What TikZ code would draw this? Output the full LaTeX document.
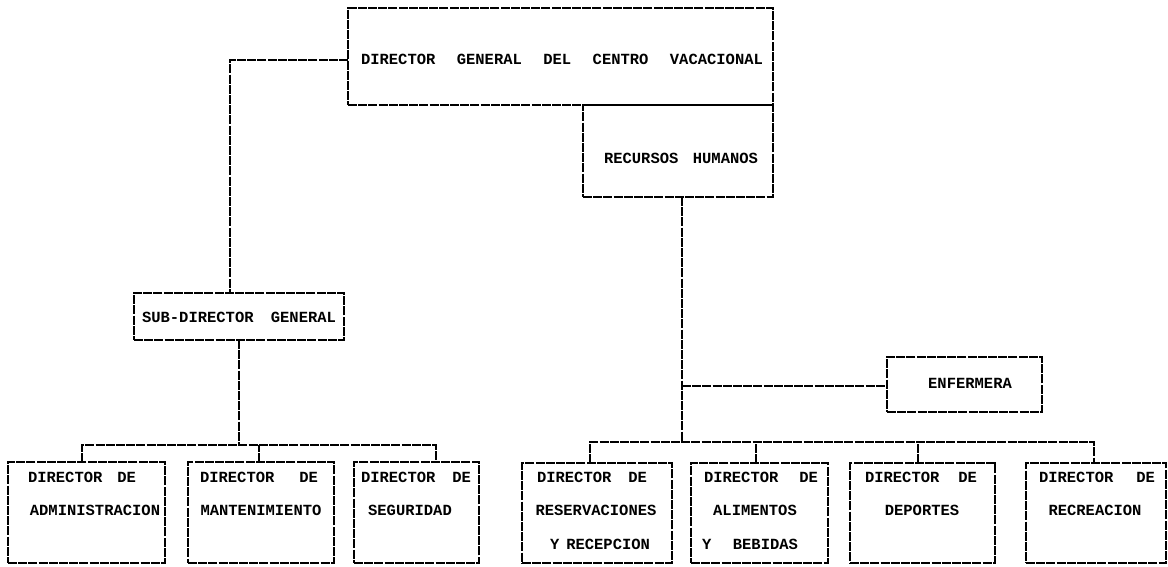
\documentclass[tikz,border=0pt]{standalone}
\usepackage{fontspec}
\setmonofont{Liberation Mono}
\begin{document}
\begin{tikzpicture}[x=1pt,y=-1pt,
  box/.style={draw, line width=1.8pt, dash pattern=on 9pt off 1.2pt,
              anchor=north west, inner sep=0pt, outer sep=0pt},
  wire/.style={line width=1.8pt, dash pattern=on 9pt off 1.2pt},
  lbl/.style={font=\ttfamily\bfseries\fontsize{15.5}{16}\selectfont, inner sep=0pt}]
\useasboundingbox[fill=white] (0,0) rectangle (1168,566);
\newcommand\orgbox[5]{\node[box, minimum width=#4pt, minimum height=#5pt] (#1) at (#2,#3) {};}
% a line of words spread over a given width
\newcommand\spread[2]{\makebox[#1pt]{#2}}

% boxes
\orgbox{dg}{348}{8}{425}{97}
\orgbox{rh}{583}{105}{190}{92}
\orgbox{sub}{134}{293}{210}{47}
\orgbox{enf}{887}{357}{155}{55}
\orgbox{adm}{8}{462}{157}{101}
\orgbox{man}{188}{462}{146}{101}
\orgbox{seg}{354}{462}{125}{101}
\orgbox{res}{522}{463}{150}{100}
\orgbox{ali}{691}{463}{137}{100}
\orgbox{dep}{850}{463}{145}{100}
\orgbox{rec}{1026}{463}{140}{100}

% labels
\node[lbl] (tdg) at (562,59) {\spread{402}{DIRECTOR\hfill GENERAL\hfill DEL\hfill CENTRO\hfill VACACIONAL}};
\node[lbl] (trh) at (681,158) {\spread{154}{RECURSOS\hfill HUMANOS}};
\node[lbl] (tsub) at (239,317) {\spread{194}{SUB-DIRECTOR\hfill GENERAL}};
\node[lbl] (tenf) at (970,383) {ENFERMERA};

\node[lbl] (tadm1) at (82,477) {\spread{108}{DIRECTOR\hfill DE}};
\node[lbl] (tadm2) at (95,510) {ADMINISTRACION};
\node[lbl] (tman1) at (259,477) {\spread{118}{DIRECTOR\hfill DE}};
\node[lbl] (tman2) at (261,510) {MANTENIMIENTO};
\node[lbl] (tseg1) at (416,477) {\spread{110}{DIRECTOR\hfill DE}};
\node[lbl] (tseg2) at (410,510) {SEGURIDAD};
\node[lbl] (tres1) at (592,477) {\spread{110}{DIRECTOR\hfill DE}};
\node[lbl] (tres2) at (596,510) {RESERVACIONES};
\node[lbl] (tres3) at (600,544) {\spread{100}{Y\hfill RECEPCION}};
\node[lbl] (tali1) at (761,477) {\spread{114}{DIRECTOR\hfill DE}};
\node[lbl] (tali2) at (755,510) {ALIMENTOS};
\node[lbl] (tali3) at (750,544) {\spread{96}{Y\hfill BEBIDAS}};
\node[lbl] (tdep1) at (921,477) {\spread{112}{DIRECTOR\hfill DE}};
\node[lbl] (tdep2) at (922,510) {DEPORTES};
\node[lbl] (trec1) at (1097,477) {\spread{116}{DIRECTOR\hfill DE}};
\node[lbl] (trec2) at (1095,510) {RECREACION};

% junction points
\coordinate (jl) at (230,60);
\coordinate (bl) at (239,445);
\coordinate (dA) at (82,445);
\coordinate (dB) at (259,445);
\coordinate (dC) at (436,445);
\coordinate (jr) at (682,442);
\coordinate (je) at (682,386);
\coordinate (d1) at (590,442);
\coordinate (d2) at (756,442);
\coordinate (d3) at (918,442);
\coordinate (d4) at (1094,442);

% connectors, left branch
\draw[wire] (dg.west |- jl) -- (jl) -- (jl |- sub.north);
\draw[wire] (sub.south -| bl) -- (bl);
\draw[wire] (adm.north -| dA) -- (dA) -- (dC) -- (seg.north -| dC);
\draw[wire] (man.north -| dB) -- (dB);

% connectors, right branch
\draw[wire] (rh.south -| jr) -- (jr);
\draw[wire] (je) -- (enf.west |- je);
\draw[wire] (res.north -| d1) -- (d1) -- (d4) -- (rec.north -| d4);
\draw[wire] (ali.north -| d2) -- (d2);
\draw[wire] (dep.north -| d3) -- (d3);
\end{tikzpicture}
\end{document}
